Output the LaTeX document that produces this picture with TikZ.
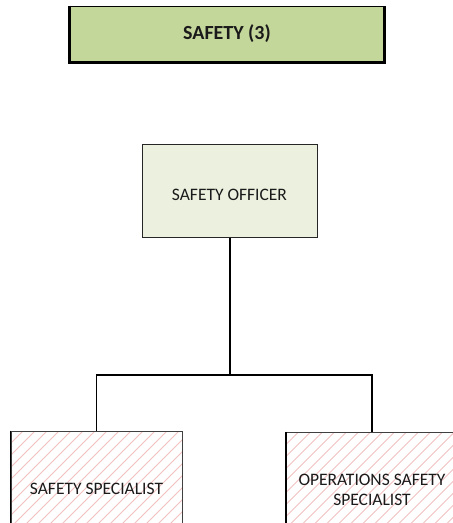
\documentclass[tikz,border=0pt]{standalone}
\usepackage{fontspec}
\setmainfont{Carlito}
\usetikzlibrary{calc}
\definecolor{titlegreen}{HTML}{C4D79B}
\definecolor{palegreen}{HTML}{EBF1DE}
\definecolor{hatchpink}{HTML}{F2C2C2}
\definecolor{txt}{HTML}{1A1A1A}
\tikzset{
  titlebox/.style={rectangle, fill=titlegreen, draw=black, line width=0.8pt, minimum width=314pt, minimum height=56pt, inner sep=0pt, font=\fontsize{20}{23}\selectfont\bfseries, text=txt},
  officerbox/.style={rectangle, fill=palegreen, draw=black!85, line width=1pt, minimum width=175pt, minimum height=93pt, inner sep=0pt, font=\fontsize{17.5}{20}\selectfont, text=txt},
  specbox/.style={rectangle, fill=white, draw=black!75, line width=1pt, minimum width=171pt, minimum height=116pt, inner sep=0pt, align=center, font=\fontsize{17.5}{20.5}\selectfont, text=txt,
    path picture={\foreach \i in {-320,-308,...,320} \draw[hatchpink, line width=1pt] ($(path picture bounding box.south west)+(\i pt,0)$) -- ++(320pt,320pt);}},
  conn/.style={draw=black, line width=1.7pt},
  heavy/.style={draw=black, line width=2.6pt}
}
\begin{document}
\begin{tikzpicture}[x=1pt,y=-1pt]
\useasboundingbox (0,0) rectangle (453,523);
\node[titlebox] (title) at (227,34) {SAFETY (3)};
\draw[heavy] (title.north west) -- (title.south west) -- (title.south east) -- (title.north east);
\node[officerbox] (officer) at (229.5,190.5) {\raisebox{-10pt}[0pt][0pt]{SAFETY OFFICER}};
\node[specbox] (spec) at (96.5,489) {SAFETY SPECIALIST};
\node[specbox] (ops) at (372,490) {OPERATIONS SAFETY\\SPECIALIST};
\coordinate (hub) at (230,375);
\draw[conn] (officer.south -| hub) -- (hub);
\draw[conn] (spec.north) |- (hub) -| (ops.north);
\draw[draw=black, line width=1.8pt] (spec.north west) -- (spec.south west);
\draw[draw=black, line width=1.8pt] (ops.north west) -- (ops.south west);
\end{tikzpicture}
\end{document}
